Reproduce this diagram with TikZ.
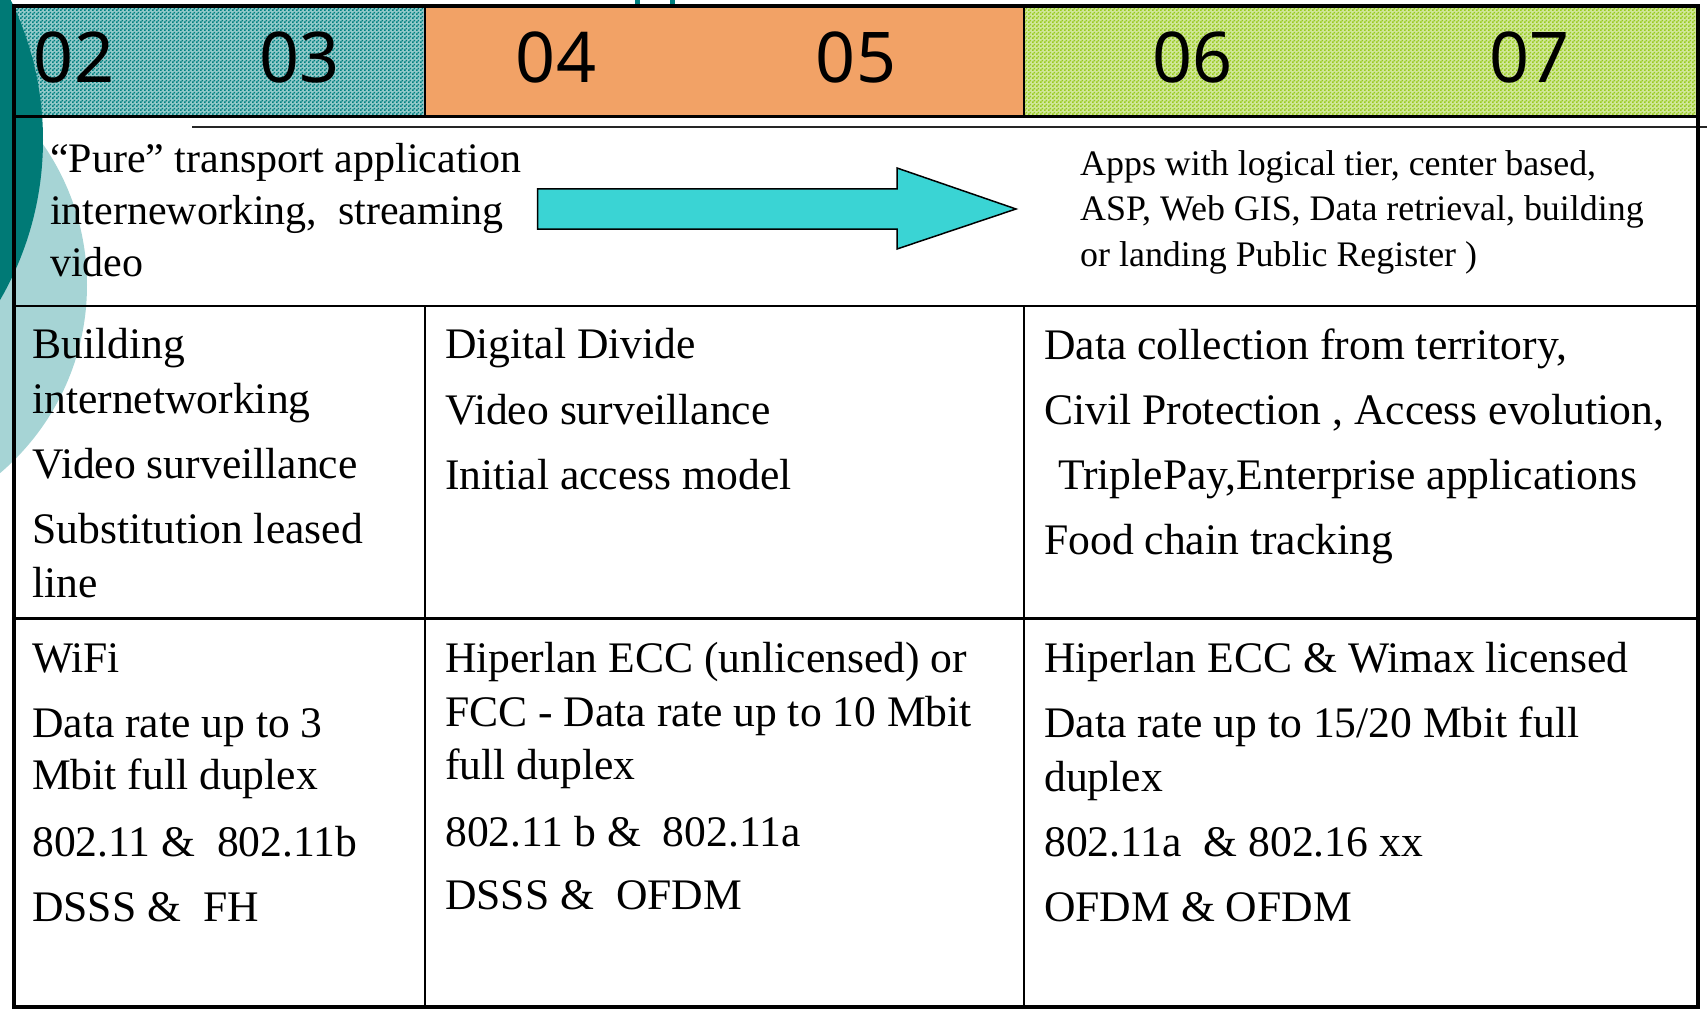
\documentclass[tikz,border=0pt]{standalone}
\usepackage{fontspec}
\setmainfont{Liberation Serif}
\newfontfamily\digitfont{Noto Sans}
\usetikzlibrary{patterns}
\definecolor{tealdark}{RGB}{0,122,118}
\definecolor{teallight}{RGB}{166,212,213}
\definecolor{hatchteal}{RGB}{0,128,128}
\definecolor{hatchgreen}{RGB}{152,202,30}
\definecolor{orangecell}{RGB}{242,162,102}
\definecolor{arrowcyan}{RGB}{58,212,212}
\pgfdeclarepatternformonly{chk}{\pgfqpoint{0pt}{0pt}}{\pgfqpoint{4pt}{4pt}}{\pgfqpoint{4pt}{4pt}}{%
  \pgfpathrectangle{\pgfqpoint{0pt}{0pt}}{\pgfqpoint{2pt}{2pt}}%
  \pgfpathrectangle{\pgfqpoint{2pt}{2pt}}{\pgfqpoint{2pt}{2pt}}%
  \pgfusepath{fill}}
\begin{document}
\begin{tikzpicture}[x=1pt,y=-1pt,
  digit/.style={anchor=base,inner sep=0pt,font=\digitfont\fontsize{70}{70}\selectfont},
  cell/.style={anchor=base west,inner sep=0pt,font=\fontsize{43.6}{50}\selectfont},
  celltop/.style={anchor=base west,inner sep=0pt,font=\fontsize{42}{50}\selectfont},
  cellsmall/.style={anchor=base west,inner sep=0pt,font=\fontsize{35.9}{44}\selectfont},
  thickrule/.style={line width=3pt,black},
  rule/.style={line width=2pt,black}]
\useasboundingbox (0,0) rectangle (1707,1011);
\clip (0,0) rectangle (1707,1011);
\fill[white] (0,0) rectangle (1707,1011);
% header fills
\fill[hatchteal!42!white] (14,6) rectangle (425,117);
\fill[pattern=chk,pattern color=hatchteal] (14,6) rectangle (425,117);
\fill[orangecell] (425,6) rectangle (1024,117);
\fill[hatchgreen!45!white] (1024,6) rectangle (1698,117);
\fill[pattern=chk,pattern color=hatchgreen] (1024,6) rectangle (1698,117);
% decorative circles
\fill[teallight] (-160,285) circle (247pt);
\fill[tealdark] (-276,140) circle (319pt);
% small teal marks at top
\fill[hatchteal] (635,0) rectangle (640,5);
\fill[hatchteal] (670,0) rectangle (675,5);
% arrow
\draw[fill=arrowcyan,line width=1.5pt,line join=miter]
  (537.5,189) -- (897,189) -- (897,168) -- (1016,209) -- (897,249) -- (897,229) -- (537.5,229) -- cycle;
% table rules
\draw[thickrule] (14,117) -- (1698,117);
\draw[line width=1.5pt,black!85] (192,127) -- (1707,127);
\draw[line width=2.5pt] (14,306) -- (1698,306);
\draw[thickrule] (14,618) -- (1698,618);
\draw[rule] (425,6) -- (425,117);
\draw[rule] (1024,6) -- (1024,117);
\draw[rule] (425,306) -- (425,1007);
\draw[rule] (1024,306) -- (1024,1007);
\draw[line width=4pt] (14,6) rectangle (1698,1007);
% header years
\node[digit] (y02) at (74,83) {02};
\node[digit] (y03) at (299.5,83) {03};
\node[digit] (y04) at (556,83) {04};
\node[digit] (y05) at (856,83) {05};
\node[digit] (y06) at (1192.5,83) {06};
\node[digit] (y07) at (1529.5,83) {07};
% row 2
\node[celltop] (pa) at (50,173) {“Pure” transport application};
\node[celltop] (pb) at (50,225) {interneworking,\ \ streaming};
\node[celltop] (pc) at (50,276) {video};
\node[cellsmall] (aa) at (1080,176) {Apps with logical tier, center based,};
\node[cellsmall] (ab) at (1080,221) {ASP, Web GIS, Data retrieval, building};
\node[cellsmall] (ac) at (1080,266) {or landing Public Register )};
% row 3
\node[cell] (l1) at (32,358) {Building};
\node[cell] (l2) at (32,413) {internetworking};
\node[cell] (l3) at (32,478) {Video surveillance};
\node[cell] (l4) at (32,543) {Substitution leased};
\node[cell] (l5) at (32,597) {line};
\node[cell] (m1) at (445,358) {Digital Divide};
\node[cell] (m2) at (445,424) {Video surveillance};
\node[cell] (m3) at (445,489) {Initial access model};
\node[cell] (r1) at (1044,359) {Data collection from territory,};
\node[cell] (r2) at (1044,424) {Civil Protection , Access evolution,};
\node[cell] (r3) at (1058,489) {TriplePay,Enterprise applications};
\node[cell] (r4) at (1044,554) {Food chain tracking};
% row 4
\node[cell] (w1) at (32,672) {WiFi};
\node[cell] (w2) at (32,737) {Data rate up to 3};
\node[cell] (w3) at (32,789) {Mbit full duplex};
\node[cell] (w4) at (32,856) {802.11 \&\ \ 802.11b};
\node[cell] (w5) at (32,921) {DSSS \&\ \ FH};
\node[cell] (h1) at (445,672) {Hiperlan ECC (unlicensed) or};
\node[cell] (h2) at (445,726) {FCC - Data rate up to 10 Mbit};
\node[cell] (h3) at (445,779) {full duplex};
\node[cell] (h4) at (445,846) {802.11 b \&\ \ 802.11a};
\node[cell] (h5) at (445,909) {DSSS \&\ \ OFDM};
\node[cell] (x1) at (1044,672) {Hiperlan ECC \& Wimax licensed};
\node[cell] (x2) at (1044,737) {Data rate up to 15/20 Mbit full};
\node[cell] (x3) at (1044,791) {duplex};
\node[cell] (x4) at (1044,856) {802.11a\ \ \& 802.16 xx};
\node[cell] (x5) at (1044,921) {OFDM \& OFDM};
\end{tikzpicture}
\end{document}
